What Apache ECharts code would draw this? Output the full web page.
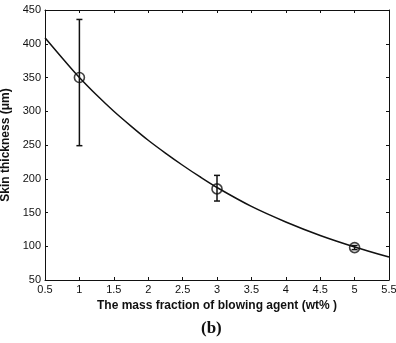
<!DOCTYPE html>
<html>
<head>
<meta charset="utf-8">
<script src="https://cdn.jsdelivr.net/npm/echarts@6/dist/echarts.min.js"></script>
<style>
  html, body { margin: 0; padding: 0; background: #fff; }
  #chart { width: 396px; height: 343px; }
</style>
</head>
<body>
<div id="chart"></div>
<script>
// Fitted curve of skin thickness versus blowing agent content
const curveX = [0.5, 0.75, 1.0, 1.25, 1.5, 1.75, 2.0, 2.25, 2.5, 2.75, 3.0, 3.5, 4.0, 4.5, 5.0, 5.5];
const curveY = [409, 379, 350, 324, 300, 278, 257, 238, 220, 203, 187, 159, 136, 116, 99, 84];

// Measured points with error bars
const pointX = [1, 3, 5];
const pointY = [350, 185, 98];
const errLow = [249, 167, 95];
const errHigh = [436, 205, 101];

const xTicks = { min: 0.5, max: 5.5, step: 0.5 };
const yTicks = { min: 50, max: 450, step: 50 };

const chart = echarts.init(document.getElementById('chart'));
const font = 'Liberation Sans, Arial, sans-serif';
const black = '#111';

const boxAxis = {
  axisLine: { show: true, lineStyle: { color: black, width: 1 } },
  axisTick: { show: true, inside: true, length: 3, lineStyle: { color: black } },
  splitLine: { show: false }
};

chart.setOption({
  animation: false,
  backgroundColor: '#fff',
  grid: { left: 45, right: 7, top: 10, bottom: 63, containLabel: false, outerBoundsMode: 'none' },
  xAxis: [
    Object.assign({
      type: 'value', min: xTicks.min, max: xTicks.max, interval: xTicks.step,
      position: 'bottom',
      axisLabel: { color: black, fontFamily: font, fontSize: 11, margin: 4,
        formatter: v => String(v) },
      name: 'The mass fraction of blowing agent (wt% )',
      nameLocation: 'middle', nameGap: 13,
      nameTextStyle: { color: black, fontFamily: font, fontSize: 12, fontWeight: 'bold',
        verticalAlign: 'top', padding: [0, 0, 0, 0] }
    }, boxAxis),
    Object.assign({
      type: 'value', min: xTicks.min, max: xTicks.max, interval: xTicks.step,
      position: 'top', axisLabel: { show: false }
    }, boxAxis)
  ],
  yAxis: [
    Object.assign({
      type: 'value', min: yTicks.min, max: yTicks.max, interval: yTicks.step,
      position: 'left',
      axisLabel: { color: black, fontFamily: font, fontSize: 11, margin: 4 },
      name: 'Skin thickness (\u03bcm)',
      nameLocation: 'middle', nameGap: 32, nameRotate: 90,
      nameTextStyle: { color: black, fontFamily: font, fontSize: 12, fontWeight: 'bold' }
    }, boxAxis),
    Object.assign({
      type: 'value', min: yTicks.min, max: yTicks.max, interval: yTicks.step,
      position: 'right', axisLabel: { show: false }
    }, boxAxis)
  ],
  series: [
    {
      type: 'line',
      data: curveX.map((x, i) => [x, curveY[i]]),
      smooth: 0.3,
      symbol: 'none',
      lineStyle: { color: black, width: 1.5 },
      z: 2
    },
    {
      type: 'custom',
      data: pointX.map((x, i) => [x, errLow[i], errHigh[i]]),
      renderItem: function (params, api) {
        const lo = api.coord([api.value(0), api.value(1)]);
        const hi = api.coord([api.value(0), api.value(2)]);
        const cap = 3;
        const style = { stroke: black, lineWidth: 1.5 };
        return {
          type: 'group',
          children: [
            { type: 'line', shape: { x1: lo[0], y1: lo[1], x2: hi[0], y2: hi[1] }, style: style },
            { type: 'line', shape: { x1: lo[0] - cap, y1: lo[1], x2: lo[0] + cap, y2: lo[1] }, style: style },
            { type: 'line', shape: { x1: hi[0] - cap, y1: hi[1], x2: hi[0] + cap, y2: hi[1] }, style: style }
          ]
        };
      },
      z: 3
    },
    {
      type: 'scatter',
      data: pointX.map((x, i) => [x, pointY[i]]),
      symbol: 'circle',
      symbolSize: 10,
      itemStyle: { color: 'rgba(255,255,255,0)', borderColor: black, borderWidth: 1.6 },
      z: 4
    }
  ],
  graphic: [
    {
      type: 'text', left: 201, top: 320,
      style: { text: '(b)', fill: black, fontFamily: 'Liberation Serif, Times New Roman, serif',
        fontSize: 17, fontWeight: 'bold' }
    }
  ]
});
</script>
</body>
</html>
